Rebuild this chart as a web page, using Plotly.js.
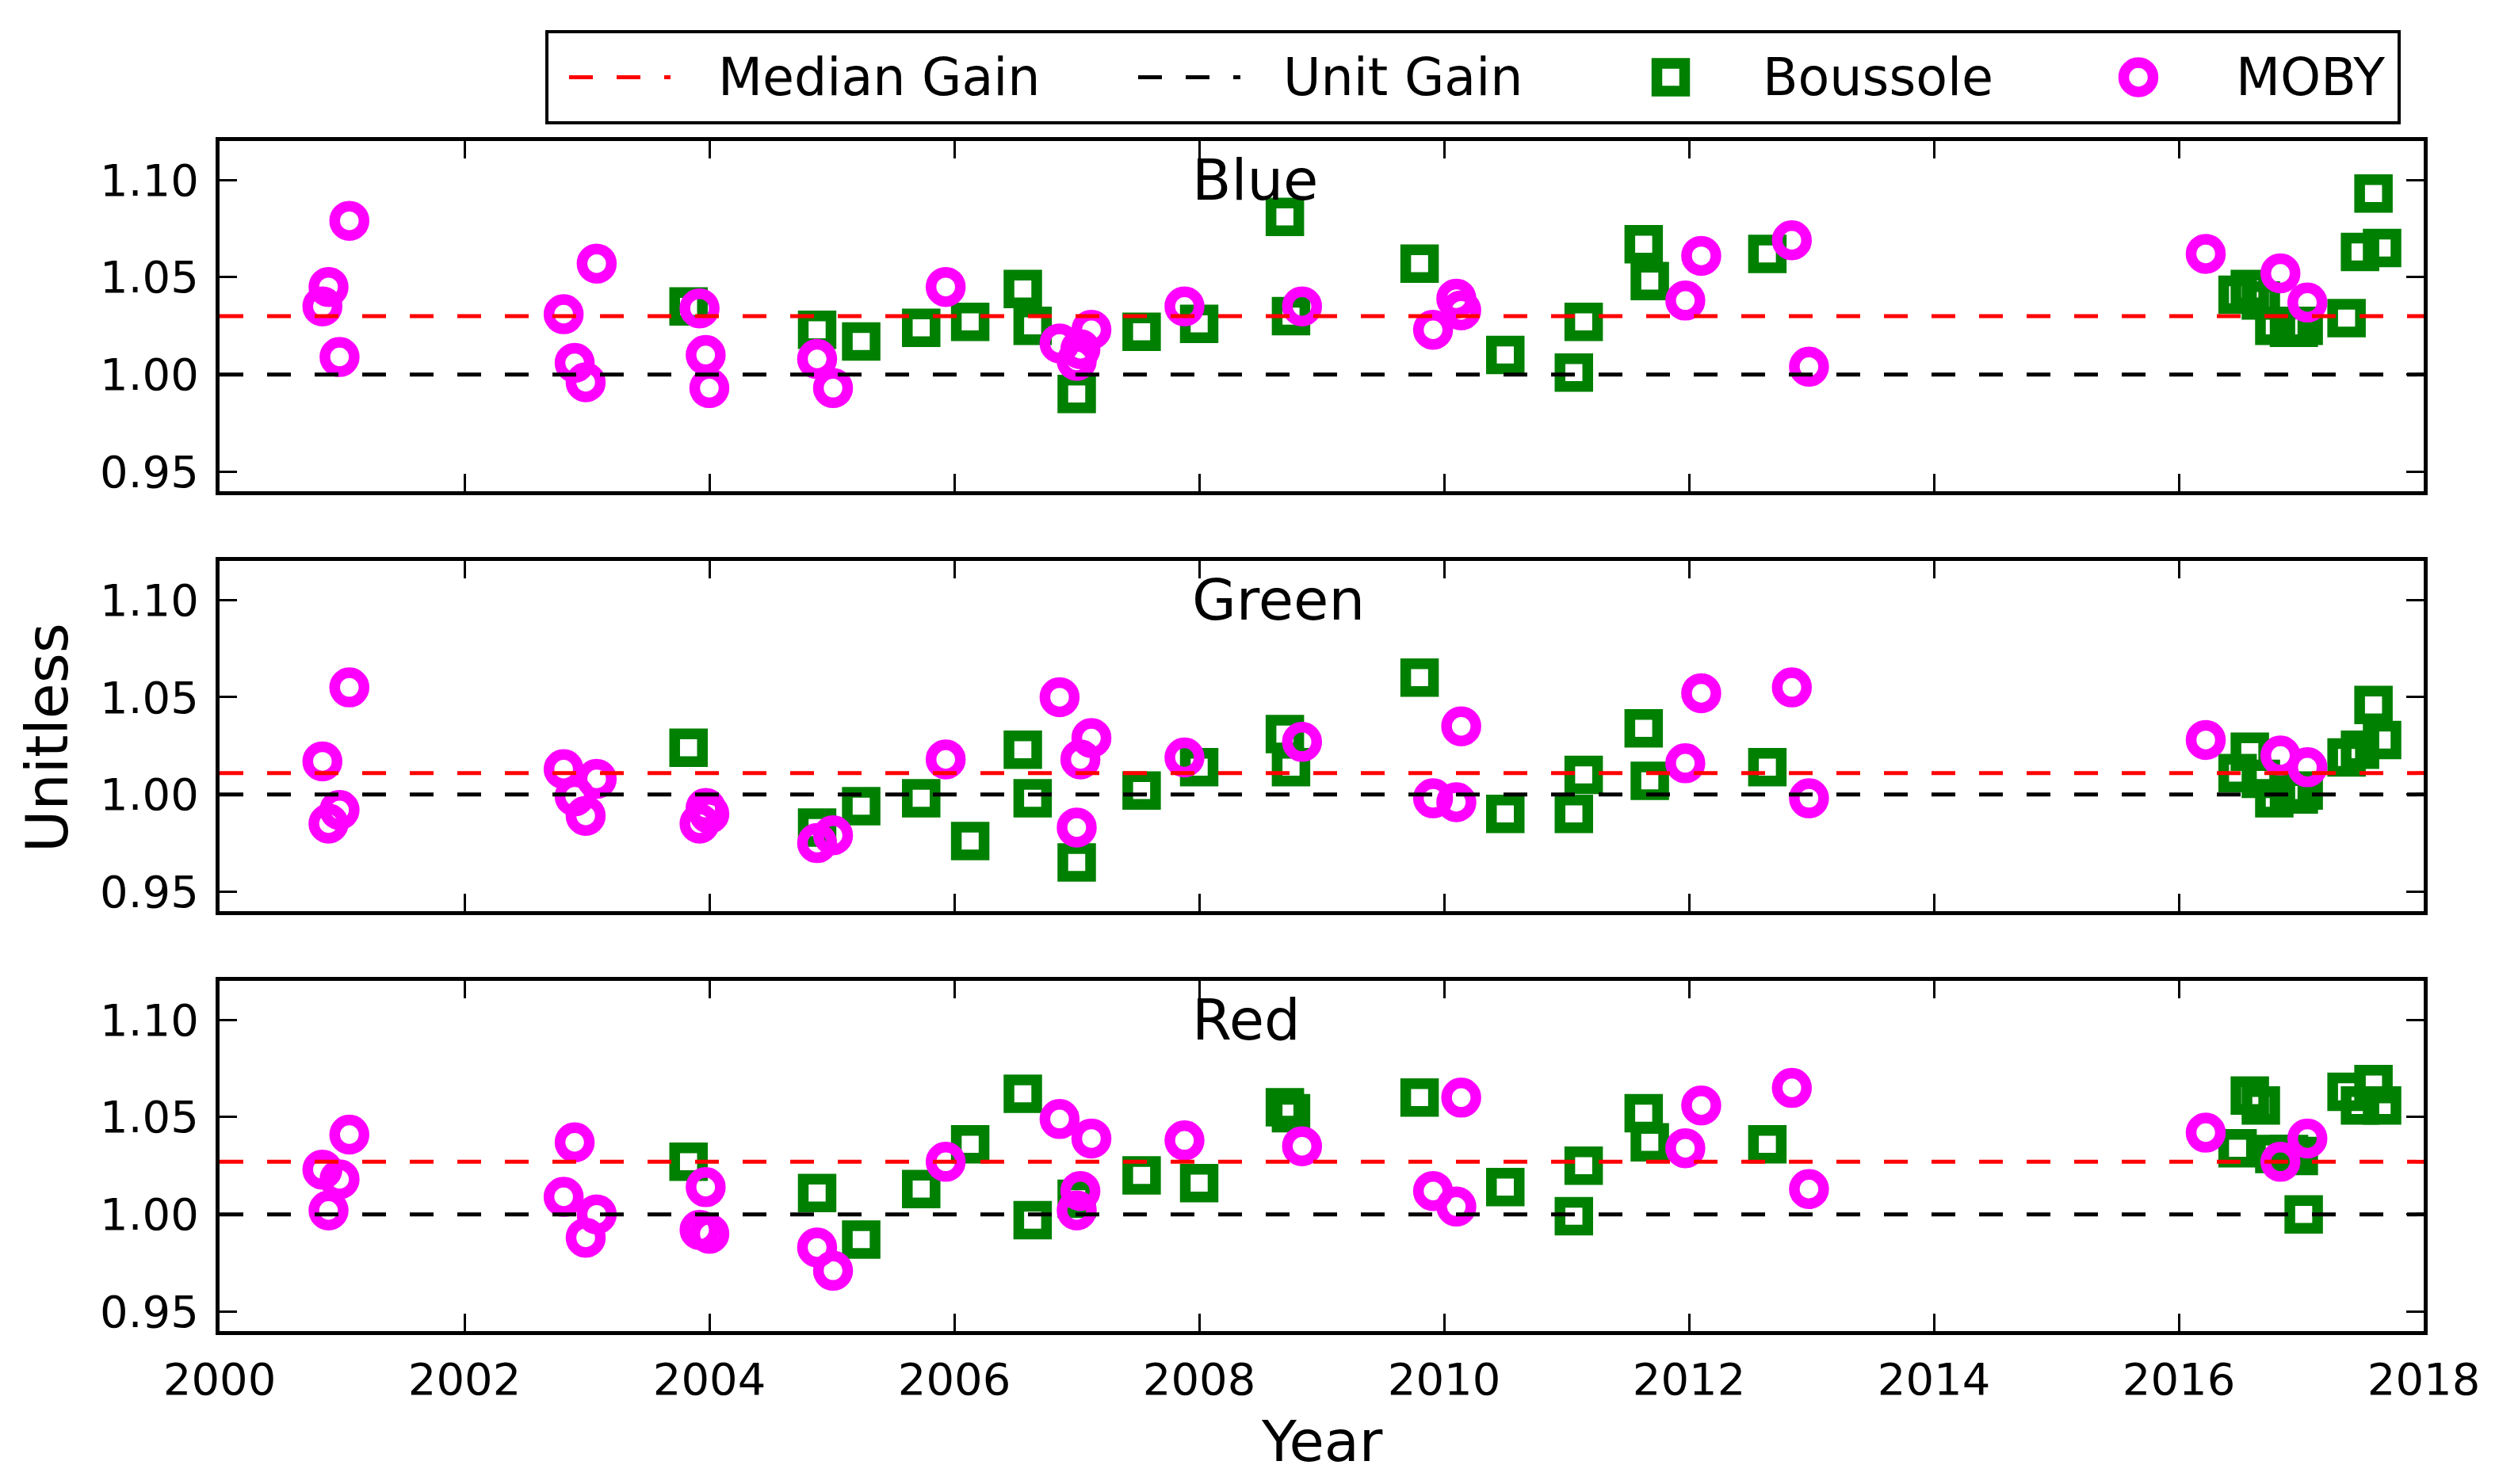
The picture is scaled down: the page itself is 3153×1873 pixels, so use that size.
<!DOCTYPE html>
<html>
<head>
<meta charset="utf-8">
<script src="https://cdn.plot.ly/plotly-3.0.1.min.js"></script>
<style>html,body{margin:0;padding:0;background:#fff}#chart{width:3153px;height:1873px}</style>
</head>
<body>
<div id="chart"></div>
<script>
// ---------------- data ----------------
const bands = ['Blue', 'Green', 'Red'];
const medianGain = [1.030, 1.011, 1.027];
const unitGain = 1.0;

const mobyYears = [2000.84, 2000.89, 2000.98, 2001.06, 2002.81, 2002.90, 2002.99, 2003.08, 2003.92, 2003.97,
  2004.00, 2004.88, 2005.01, 2005.93, 2006.86, 2007.00, 2007.03, 2007.12, 2007.88, 2008.84,
  2009.91, 2010.10, 2010.14, 2011.97, 2012.10, 2012.84, 2012.98, 2016.22, 2016.83, 2017.05];
const mobyBlue = [1.035, 1.045, 1.009, 1.079, 1.031, 1.006, 0.996, 1.057, 1.034, 1.010,
  0.993, 1.008, 0.993, 1.045, 1.016, 1.007, 1.013, 1.023, 1.035, 1.035,
  1.023, 1.039, 1.033, 1.038, 1.061, 1.069, 1.004, 1.062, 1.052, 1.037];
const mobyGreen = [1.017, 0.985, 0.992, 1.055, 1.013, 0.999, 0.989, 1.008, 0.985, 0.993,
  0.990, 0.975, 0.979, 1.018, 1.050, 0.983, 1.018, 1.029, 1.019, 1.027,
  0.998, 0.996, 1.035, 1.016, 1.052, 1.055, 0.998, 1.028, 1.020, 1.014];
const mobyRed = [1.023, 1.002, 1.018, 1.041, 1.009, 1.037, 0.988, 1.000, 0.992, 1.014,
  0.990, 0.983, 0.971, 1.027, 1.049, 1.002, 1.012, 1.039, 1.038, 1.035,
  1.012, 1.004, 1.060, 1.034, 1.056, 1.065, 1.013, 1.042, 1.027, 1.039];

const boussoleYears = [2003.83, 2004.88, 2005.24, 2005.73, 2006.13, 2006.56, 2006.64, 2007.00, 2007.53, 2008.00,
  2008.70, 2008.75, 2009.80, 2010.50, 2011.06, 2011.14, 2011.63, 2011.68, 2012.64, 2016.48,
  2016.58, 2016.67, 2016.78, 2016.90, 2016.98, 2017.02, 2017.37, 2017.48, 2017.59, 2017.66];
const boussoleBlue = [1.035, 1.023, 1.017, 1.024, 1.027, 1.044, 1.025, 0.990, 1.022, 1.026,
  1.081, 1.030, 1.057, 1.010, 1.001, 1.027, 1.067, 1.048, 1.062, 1.041,
  1.044, 1.038, 1.025, 1.024, 1.024, 1.025, 1.029, 1.063, 1.093, 1.065];
const boussoleGreen = [1.024, 0.983, 0.994, 0.998, 0.976, 1.023, 0.998, 0.965, 1.002, 1.014,
  1.031, 1.014, 1.060, 0.990, 0.990, 1.010, 1.034, 1.007, 1.014, 1.011,
  1.022, 1.008, 0.998, 1.001, 1.000, 1.002, 1.019, 1.023, 1.046, 1.028];
const boussoleRed = [1.027, 1.011, 0.987, 1.013, 1.036, 1.062, 0.997, 1.008, 1.020, 1.016,
  1.055, 1.052, 1.060, 1.014, 0.999, 1.025, 1.052, 1.037, 1.036, 1.034,
  1.061, 1.056, 1.031, 1.031, 1.030, 1.000, 1.063, 1.056, 1.067, 1.056];

const xRange = [2000, 2018];
const xTicks = [2000, 2002, 2004, 2006, 2008, 2010, 2012, 2014, 2016, 2018];
const yRange = [0.94, 1.12];
const yTicks = [0.95, 1.00, 1.05, 1.10];
const yTickText = ['0.95', '1.00', '1.05', '1.10'];
const legendLabels = ['Median Gain', 'Unit Gain', 'Boussole', 'MOBY'];
const xTitle = 'Year';
const yTitle = 'Unitless';

// ---------------- styles ----------------
const FONT = 'DejaVu Sans, Verdana, sans-serif';
const GREEN = '#008000', MAGENTA = '#ff00ff';
const sqMarker = {symbol: 'square-open', size: 35, color: GREEN, line: {width: 13.5, color: GREEN}};
const ciMarker = {symbol: 'circle-open', size: 37, color: MAGENTA, line: {width: 13.5, color: MAGENTA}};
const dashStyle = '30px,30px';

const mobyVals = [mobyBlue, mobyGreen, mobyRed];
const bousVals = [boussoleBlue, boussoleGreen, boussoleRed];
const suffix = ['', '2', '3'];
const domains = [[0.63095, 0.89405], [0.31548, 0.57857], [0.0, 0.26310]];

const traces = [];
bands.forEach((b, i) => {
  const xa = 'x' + suffix[i], ya = 'y' + suffix[i];
  traces.push({type: 'scatter', mode: 'markers', x: boussoleYears, y: bousVals[i], xaxis: xa, yaxis: ya,
    marker: sqMarker, name: legendLabels[2], showlegend: false, cliponaxis: false});
  traces.push({type: 'scatter', mode: 'markers', x: mobyYears, y: mobyVals[i], xaxis: xa, yaxis: ya,
    marker: ciMarker, name: legendLabels[3], showlegend: false, cliponaxis: false});
  traces.push({type: 'scatter', mode: 'lines', x: xRange, y: [medianGain[i], medianGain[i]], xaxis: xa, yaxis: ya,
    line: {color: '#ff0000', width: 5, dash: dashStyle}, name: legendLabels[0], showlegend: false});
  traces.push({type: 'scatter', mode: 'lines', x: xRange, y: [unitGain, unitGain], xaxis: xa, yaxis: ya,
    line: {color: '#000000', width: 5, dash: dashStyle}, name: legendLabels[1], showlegend: false});
});

// legend glyphs drawn in a hidden pixel-coordinate subplot
const LX = 'x4', LY = 'y4';
const legY = 97.5;
traces.push({type: 'scatter', mode: 'lines', x: [718, 846], y: [legY, legY], xaxis: LX, yaxis: LY,
  line: {color: '#ff0000', width: 5, dash: dashStyle}, showlegend: false, hoverinfo: 'skip'});
traces.push({type: 'scatter', mode: 'lines', x: [1436, 1565], y: [legY, legY], xaxis: LX, yaxis: LY,
  line: {color: '#000000', width: 5, dash: dashStyle}, showlegend: false, hoverinfo: 'skip'});
traces.push({type: 'scatter', mode: 'markers', x: [2108], y: [legY], xaxis: LX, yaxis: LY,
  marker: sqMarker, showlegend: false, hoverinfo: 'skip'});
traces.push({type: 'scatter', mode: 'markers', x: [2698], y: [legY], xaxis: LX, yaxis: LY,
  marker: ciMarker, showlegend: false, hoverinfo: 'skip'});

function xAxis(i) {
  return {domain: [0, 1], range: xRange, anchor: 'y' + suffix[i], tickmode: 'array', tickvals: xTicks,
    showticklabels: i === 2, ticks: 'inside', ticklen: 22, tickwidth: 3, tickcolor: '#000',
    showline: true, linewidth: 5, linecolor: '#000', mirror: 'ticks', showgrid: false, zeroline: false,
    tickfont: {family: FONT, size: 56, color: '#000'}, ticklabelstandoff: 8};
}
function yAxis(i) {
  return {domain: domains[i], range: yRange, anchor: 'x' + suffix[i], tickmode: 'array', tickvals: yTicks, ticktext: yTickText,
    ticks: 'inside', ticklen: 22, tickwidth: 3, tickcolor: '#000',
    showline: true, linewidth: 5, linecolor: '#000', mirror: 'ticks', showgrid: false, zeroline: false,
    tickfont: {family: FONT, size: 56, color: '#000'}, ticklabelstandoff: 10};
}

const annotations = [];
bands.forEach((b, i) => {
  annotations.push({text: b, xref: 'x' + suffix[i], yref: 'y' + suffix[i], x: 2007.93, y: 1.10,
    xanchor: 'left', yanchor: 'middle', showarrow: false, font: {family: FONT, size: 72, color: '#000'}});
});
annotations.push({text: xTitle, xref: 'paper', yref: 'paper', x: 0.5, y: -0.083, xanchor: 'center', yanchor: 'middle',
  showarrow: false, font: {family: FONT, size: 72, color: '#000'}});
annotations.push({text: yTitle, xref: 'paper', yref: 'paper', x: -0.0784, y: 0.4458, xanchor: 'center', yanchor: 'middle',
  textangle: -90, showarrow: false, font: {family: FONT, size: 73, color: '#000'}});
const legTextX = [904, 1617, 2222, 2819];
legendLabels.forEach((t, k) => {
  annotations.push({text: t, xref: LX, yref: LY, x: legTextX[k], y: legY, xanchor: 'left', yanchor: 'middle',
    showarrow: false, font: {family: FONT, size: 65, color: '#000'}});
});

const layout = {
  width: 3153, height: 1873,
  margin: {l: 277, r: 95, t: 0, b: 193, pad: 0},
  paper_bgcolor: '#fff', plot_bgcolor: 'rgba(0,0,0,0)',
  showlegend: false,
  xaxis: xAxis(0), xaxis2: xAxis(1), xaxis3: xAxis(2),
  yaxis: yAxis(0), yaxis2: yAxis(1), yaxis3: yAxis(2),
  xaxis4: {domain: [0, 1], range: [277, 3058], anchor: 'y4', visible: false, fixedrange: true},
  yaxis4: {domain: [0.90774, 0.97619], range: [155, 40], anchor: 'x4', visible: false, fixedrange: true},
  shapes: [{type: 'rect', xref: 'paper', yref: 'paper', x0: 0.14851, x1: 0.98885, y0: 0.90774, y1: 0.97619,
    line: {color: '#000', width: 4}, fillcolor: '#fff', layer: 'below'}],
  annotations: annotations
};

Plotly.newPlot('chart', traces, layout, {staticPlot: true, displayModeBar: false});
</script>
</body>
</html>
